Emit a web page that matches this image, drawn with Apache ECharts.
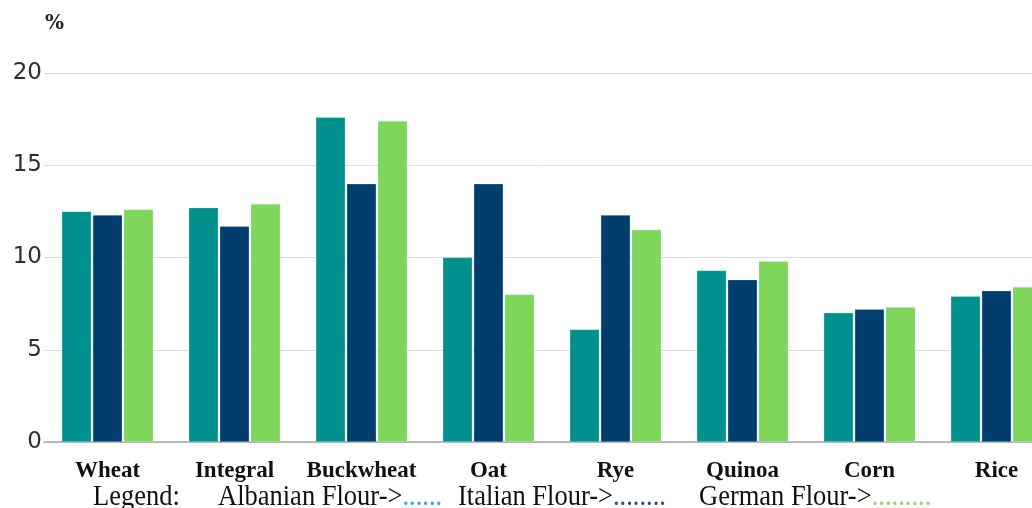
<!DOCTYPE html>
<html>
<head>
<meta charset="utf-8">
<script src="https://cdn.jsdelivr.net/npm/echarts@6/dist/echarts.min.js"></script>
<style>
  html, body { margin: 0; padding: 0; background: #fff; }
  #chartDiv { width: 1032px; height: 508px; }
</style>
</head>
<body>
<div id="chartDiv"></div>
<script>
// 数据
const categories = ["Wheat", "Integral", "Buckwheat", "Oat", "Rye", "Quinoa", "Corn", "Rice"];
const albanian = [12.5, 12.7, 17.6, 10.0, 6.1, 9.3, 7.0, 7.9];
const italian = [12.3, 11.7, 14.0, 14.0, 12.3, 8.8, 7.2, 8.2];
const german = [12.6, 12.9, 17.4, 8.0, 11.5, 9.8, 7.3, 8.4];
const yTicks = [0, 5, 10, 15, 20];
// 图例文字（图片底部的说明行）
const legendItems = [
    { label: "Albanian Flour->", dots: "......", color: "#2aa6e6" },
    { label: "Italian Flour->", dots: "........", color: "#2a4a8c" },
    { label: "German Flour->", dots: ".........", color: "#92d46c" },
];

let chart = echarts.init(document.getElementById("chartDiv"));

function barSeries(name, data, color) {
    return {
        name: name,
        type: "bar",
        data: data,
        barWidth: 29.5,
        barGap: "5%",
        barCategoryGap: "28%",
        itemStyle: {
            color: color,
            borderColor: "rgba(190, 240, 245, 0.6)",
            borderWidth: 0.5,
        },
    };
}

// 图例说明行：放大 + 纵向拉伸，模仿原图
const legendX = [218, 458, 699];
const legendFont = { fontFamily: "Liberation Serif", fontSize: 26.5 };
let legendGraphics = [
    {
        type: "text",
        x: 93,
        y: 513,
        scaleY: 1.15,
        style: Object.assign({ text: "Legend:", fill: "#111", verticalAlign: "bottom" }, legendFont),
    },
];
legendItems.forEach(function (item, i) {
    legendGraphics.push({
        type: "text",
        x: legendX[i],
        y: 513,
        scaleY: 1.15,
        style: Object.assign(
            {
                text: item.label + "{d|" + item.dots + "}",
                fill: "#111",
                verticalAlign: "bottom",
                rich: { d: Object.assign({ fill: item.color }, legendFont) },
            },
            legendFont
        ),
    });
});

chart.setOption({
    animation: false,
    grid: {
        left: 44,
        top: 73,
        width: 1016,
        height: 369,
        containLabel: false,
        outerBoundsMode: "none",
    },
    xAxis: {
        type: "category",
        data: categories,
        axisTick: { show: false },
        axisLine: { lineStyle: { color: "#a8a8a8", width: 1.5 } },
        axisLabel: {
            interval: 0,
            margin: 18,
            color: "#111",
            fontFamily: "Liberation Serif",
            fontWeight: "bold",
            fontSize: 23,
        },
    },
    yAxis: {
        type: "value",
        min: yTicks[0],
        max: yTicks[yTicks.length - 1],
        interval: 5,
        axisLine: { show: false },
        axisTick: { show: false },
        axisLabel: {
            margin: 2,
            color: "#2b3035",
            fontFamily: "DejaVu Sans",
            fontSize: 23,
        },
        splitLine: { lineStyle: { color: "#dcdcdc", width: 1 } },
    },
    series: [
        barSeries("Albanian Flour", albanian, "#00918f"),
        barSeries("Italian Flour", italian, "#023e6d"),
        barSeries("German Flour", german, "#7fd65a"),
    ],
    graphic: [
        {
            type: "text",
            left: 45,
            top: 14,
            style: {
                text: "%",
                fontFamily: "DejaVu Serif",
                fontWeight: "bold",
                fontSize: 20,
                fill: "#222",
            },
        },
    ].concat(legendGraphics),
});

window.onresize = function () {
    chart.resize();
};
</script>
</body>
</html>
